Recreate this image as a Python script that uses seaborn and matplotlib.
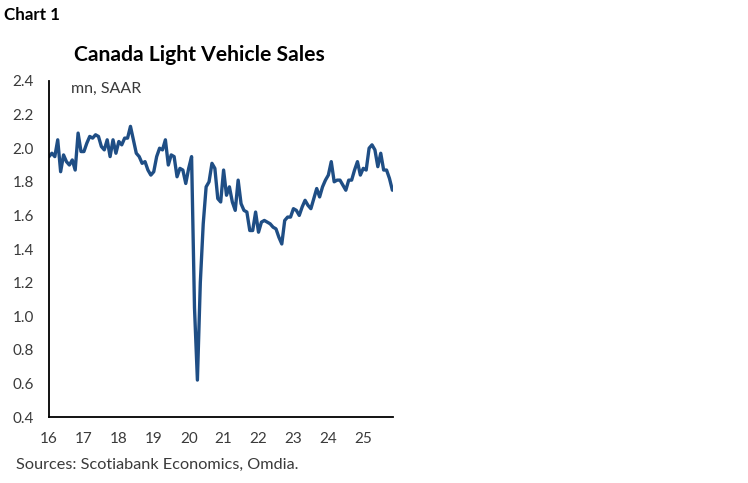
import numpy as np
import pandas as pd
import matplotlib
matplotlib.use("Agg")
import matplotlib.pyplot as plt
import seaborn as sns

# monthly light vehicle sales, mn units SAAR, Jan 2016 - Nov 2025
sales_2016 = [1.95, 1.97, 1.95, 2.05, 1.86, 1.96, 1.92, 1.90, 1.93, 1.87, 2.09, 1.98]
sales_2017 = [1.98, 2.03, 2.07, 2.06, 2.08, 2.07, 2.01, 1.99, 2.05, 1.95, 2.05, 1.97]
sales_2018 = [2.04, 2.02, 2.06, 2.06, 2.13, 2.05, 1.97, 1.95, 1.91, 1.92, 1.87, 1.84]
sales_2019 = [1.86, 1.95, 2.00, 1.99, 2.05, 1.90, 1.96, 1.95, 1.83, 1.88, 1.87, 1.79]
sales_2020 = [1.88, 1.95, 1.05, 0.62, 1.20, 1.55, 1.77, 1.80, 1.91, 1.88, 1.70, 1.68]
sales_2021 = [1.87, 1.72, 1.77, 1.68, 1.63, 1.81, 1.67, 1.63, 1.62, 1.51, 1.51, 1.62]
sales_2022 = [1.50, 1.56, 1.57, 1.56, 1.55, 1.53, 1.52, 1.47, 1.43, 1.57, 1.59, 1.59]
sales_2023 = [1.64, 1.63, 1.60, 1.65, 1.69, 1.66, 1.64, 1.70, 1.76, 1.71, 1.77, 1.81]
sales_2024 = [1.84, 1.92, 1.80, 1.81, 1.81, 1.78, 1.75, 1.81, 1.81, 1.87, 1.92, 1.84]
sales_2025 = [1.88, 1.87, 2.00, 2.02, 1.99, 1.89, 1.97, 1.87, 1.87, 1.82, 1.75]

sales = (sales_2016 + sales_2017 + sales_2018 + sales_2019 + sales_2020
         + sales_2021 + sales_2022 + sales_2023 + sales_2024 + sales_2025)
years = list(range(2016, 2026))
year_labels = ['16', '17', '18', '19', '20', '21', '22', '23', '24', '25']
y_ticks = [0.4, 0.6, 0.8, 1.0, 1.2, 1.4, 1.6, 1.8, 2.0, 2.2, 2.4]

df = pd.DataFrame({'t': 2016 + np.arange(len(sales)) / 12.0, 'sales': sales})

sns.set_style('white')
plt.rcParams['font.family'] = ['Lato', 'DejaVu Sans']

navy = '#1f4e85'
txt = '#3a3a3a'

fig = plt.figure(figsize=(7.48, 4.83), dpi=100)
ax = fig.add_axes([0.0655, 0.1366, 0.46, 0.6957])

sns.lineplot(data=df, x='t', y='sales', ax=ax, color=navy, linewidth=2.4)

ax.set_xlim(2016, df['t'].iloc[-1] + 0.02)
ax.set_ylim(0.4, 2.4)
ax.set_xticks(years)
ax.set_xticklabels(year_labels)
ax.set_yticks(y_ticks)
ax.set_yticklabels(['%.1f' % v for v in y_ticks])
ax.set_xlabel('')
ax.set_ylabel('')

for s in ['top', 'right']:
    ax.spines[s].set_visible(False)
for s in ['left', 'bottom']:
    ax.spines[s].set_color('black')
    ax.spines[s].set_linewidth(1.3)
ax.tick_params(axis='both', direction='out', length=5, width=1.3, color='black',
               labelsize=11, labelcolor=txt)
ax.tick_params(axis='x', pad=6)
ax.tick_params(axis='y', pad=6)

ax.text(0.063, 0.996, 'mn, SAAR', transform=ax.transAxes, fontsize=11.5,
        color=txt, va='top', ha='left')
fig.text(0.267, 0.887, 'Canada Light Vehicle Sales', fontsize=15.2,
         fontweight='bold', ha='center', va='center', color='black')
fig.text(0.005, 0.969, 'Chart 1', fontsize=12.2, fontweight='bold',
         ha='left', va='center', color='black')
fig.text(0.022, 0.038, 'Sources: Scotiabank Economics, Omdia.', fontsize=11.7,
         ha='left', va='center', color=txt)

fig.savefig('out.png', dpi=100)
